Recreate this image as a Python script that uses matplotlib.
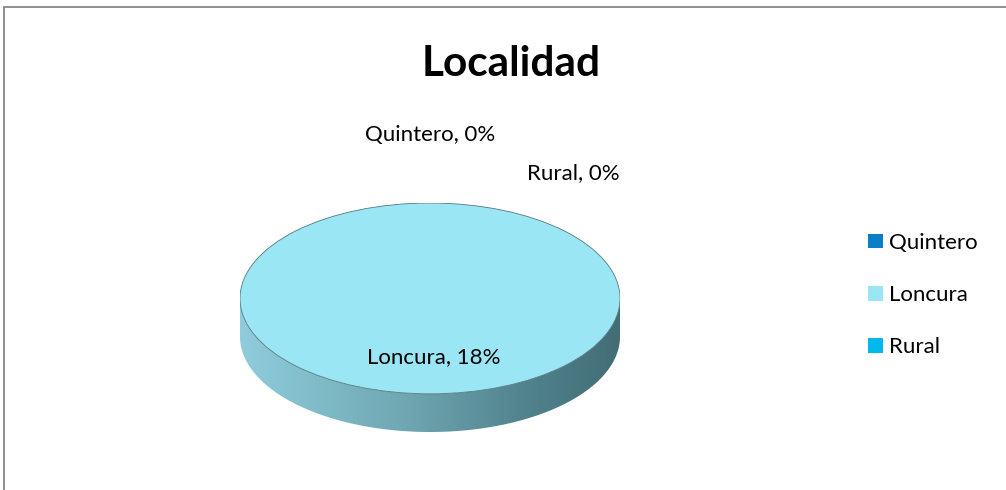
import numpy as np
import matplotlib
matplotlib.use("Agg")
import matplotlib.pyplot as plt
from matplotlib.patches import Polygon, Rectangle, Ellipse
from matplotlib.colors import LinearSegmentedColormap

# ---- data ----
categories = ["Quintero", "Loncura", "Rural"]
values = [0, 18, 0]
colors = ["#0b7ec6", "#9be6f5", "#00b9ec"]
title = "Localidad"

plt.rcParams['font.family'] = ['Lato', 'DejaVu Sans']

W, H = 1006, 490
fig = plt.figure(figsize=(W / 100, H / 100), dpi=100)

# chart border (extends beyond right/bottom edge in reference)
border = Rectangle((4 / W, -0.05), 1.2, (490 - 7) / H + 0.05, transform=fig.transFigure,
                   fill=False, edgecolor="#868686", linewidth=1.3, zorder=0)
fig.patches.append(border)

fig.text(511 / W, 1 - 64 / H, title, ha="center", va="center",
         fontsize=30.5, fontweight="bold", color="black")

# pie axes: top face ellipse x 240..620, y 203..393 ; depth to 432
depth = 0.4
ax = fig.add_axes([240 / W, (H - 432) / H, 380 / W, 229 / H])
wedges, _ = ax.pie(values, colors=colors, startangle=90, counterclock=False,
                   radius=1.0, wedgeprops=dict(linewidth=0), normalize=True)
for w in wedges:
    w.set_zorder(3)
ax.set_aspect("auto")
ax.set_xlim(-1.0, 1.0)
ax.set_ylim(-1.0 - depth, 1.0)
ax.axis("off")

# 3D side with horizontal gradient
t = np.linspace(np.pi, 2 * np.pi, 200)
top = np.column_stack([np.cos(t), np.sin(t)])
bot = np.column_stack([np.cos(t[::-1]), np.sin(t[::-1]) - depth])
side = Polygon(np.vstack([top, bot]), closed=True, facecolor="none", edgecolor="none",
               transform=ax.transData)
ax.add_patch(side)
cmap = LinearSegmentedColormap.from_list("side", [
    (0.0, "#8fcddc"), (0.12, "#86c3d1"), (0.45, "#6ea5b0"),
    (0.75, "#51838d"), (1.0, "#426d75")])
grad = np.linspace(0, 1, 256).reshape(1, -1)
im = ax.imshow(grad, cmap=cmap, extent=(-1, 1, -1 - depth, 0), aspect="auto",
               zorder=2, interpolation="bilinear")
im.set_clip_path(side)
ax.set_xlim(-1.0, 1.0)
ax.set_ylim(-1.0 - depth, 1.0)

# outline of top face
ax.add_patch(Ellipse((0, 0), 2, 2, fill=False, edgecolor="#557880", linewidth=0.6, zorder=4))

# data labels
label_pos = {"Quintero": (430 / W, 1 - 135 / H), "Loncura": None, "Rural": (573 / W, 1 - 173 / H)}
for name, v, w in zip(categories, values, wedges):
    txt = f"{name}, {v}%"
    if label_pos[name] is None:
        ang = np.deg2rad((w.theta1 + w.theta2) / 2)
        ax.text(0.02, 0.62 * np.sin(ang), txt, ha="center", va="center",
                fontsize=16, zorder=5)
    else:
        fig.text(*label_pos[name], txt, ha="center", va="center", fontsize=16)

leg = fig.legend(wedges, categories, loc="center left", bbox_to_anchor=(857 / W, 1 - 295 / H),
                 frameon=False, fontsize=16, handlelength=0.65, handleheight=0.65,
                 handletextpad=0.3, labelspacing=1.45, borderpad=0)

fig.savefig("out.png", dpi=100)
